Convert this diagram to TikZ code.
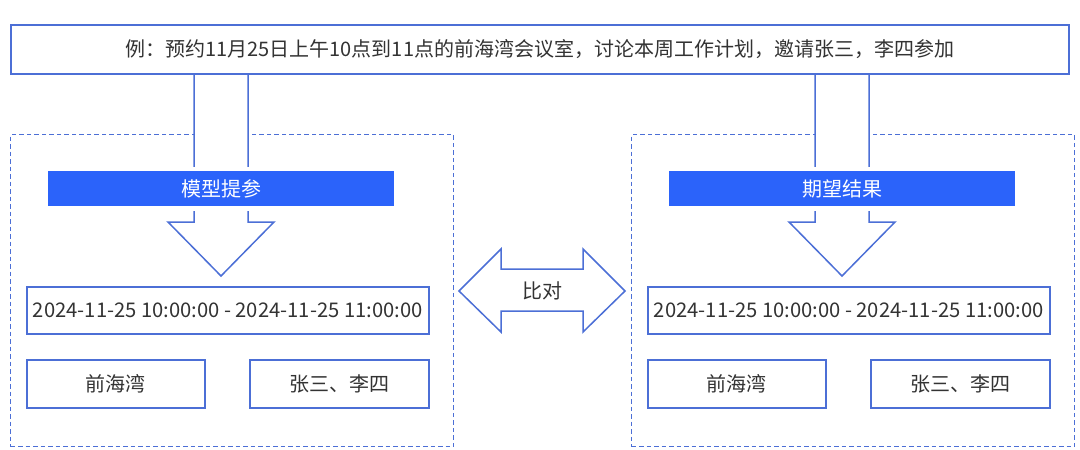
\documentclass[tikz,border=0pt]{standalone}
\usepackage{fontspec}
\setmainfont{Noto Sans CJK SC}
\usepackage{xcolor}
\usepackage{tikz}
\usetikzlibrary{calc}

\definecolor{lineblue}{HTML}{4C6FD6}
\definecolor{barblue}{HTML}{2B63FA}
\definecolor{textgray}{HTML}{333333}

\tikzset{
  outline/.style={draw=lineblue, line width=1.5pt},
  panel/.style={draw=lineblue, line width=1.3pt, dash pattern=on 4.5pt off 3pt,
    minimum width=443pt, minimum height=312pt, anchor=north west, inner sep=0pt},
  titlebar/.style={fill=barblue, text=white, minimum width=346pt, minimum height=35pt,
    anchor=north west, inner sep=0pt, font=\fontsize{20}{20}\selectfont,
    preaction={draw=white, line width=9pt}},
  infobox/.style={outline, fill=white, text=textgray, anchor=north west, inner sep=0pt,
    font=\fontsize{20}{20}\selectfont},
  blockarrow/.style={outline, fill=white, line join=miter},
}

\begin{document}
\begin{tikzpicture}[x=1pt, y=-1pt]
  \useasboundingbox (0,0) rectangle (1080,450);

  % dashed panels
  \node[panel] (leftpanel) at (10,134) {};
  \node[panel] (rightpanel) at (631,134) {};

  % down arrows out of the example box
  \foreach \ox/\nm in {0/left, 621/right} {
    \draw[blockarrow] (\ox+194,73) -- (\ox+194,222) -- (\ox+168,222) -- (\ox+221,276)
      -- (\ox+274,222) -- (\ox+248,222) -- (\ox+248,73) -- cycle;
  }

  % example sentence
  \node[outline, fill=white, text=textgray, anchor=north west, inner sep=0pt,
    minimum width=1058pt, minimum height=49pt, font=\fontsize{20}{20}\selectfont]
    (example) at (10,24) {例：预约11月25日上午10点到11点的前海湾会议室，讨论本周工作计划，邀请张三，李四参加};

  % left: model output
  \node[titlebar] (modelbar) at (48,171) {模型提参};
  \node[infobox, minimum width=402pt, minimum height=47pt,
    font=\fontsize{20.2}{20.2}\selectfont] (modeltime) at (26,286)
    {2024-11-25 10:00:00 - 2024-11-25 11:00:00};
  \node[infobox, minimum width=178pt, minimum height=48pt] (modelroom) at (26,359) {前海湾};
  \node[infobox, minimum width=179pt, minimum height=48pt] (modelpeople) at (249,359) {张三、李四};

  % right: expected result
  \node[titlebar] (expectbar) at (669,171) {期望结果};
  \node[infobox, minimum width=402pt, minimum height=47pt,
    font=\fontsize{20.2}{20.2}\selectfont] (expecttime) at (647,286)
    {2024-11-25 10:00:00 - 2024-11-25 11:00:00};
  \node[infobox, minimum width=178pt, minimum height=48pt] (expectroom) at (647,359) {前海湾};
  \node[infobox, minimum width=179pt, minimum height=48pt] (expectpeople) at (870,359) {张三、李四};

  % compare arrow
  \draw[blockarrow] (459,291) -- (501,249) -- (501,269) -- (583,269) -- (583,249)
    -- (625,291) -- (583,332) -- (583,311) -- (501,311) -- (501,332) -- cycle;
  \node[text=textgray, font=\fontsize{20}{20}\selectfont] (compare) at (542,291) {比对};
\end{tikzpicture}
\end{document}
